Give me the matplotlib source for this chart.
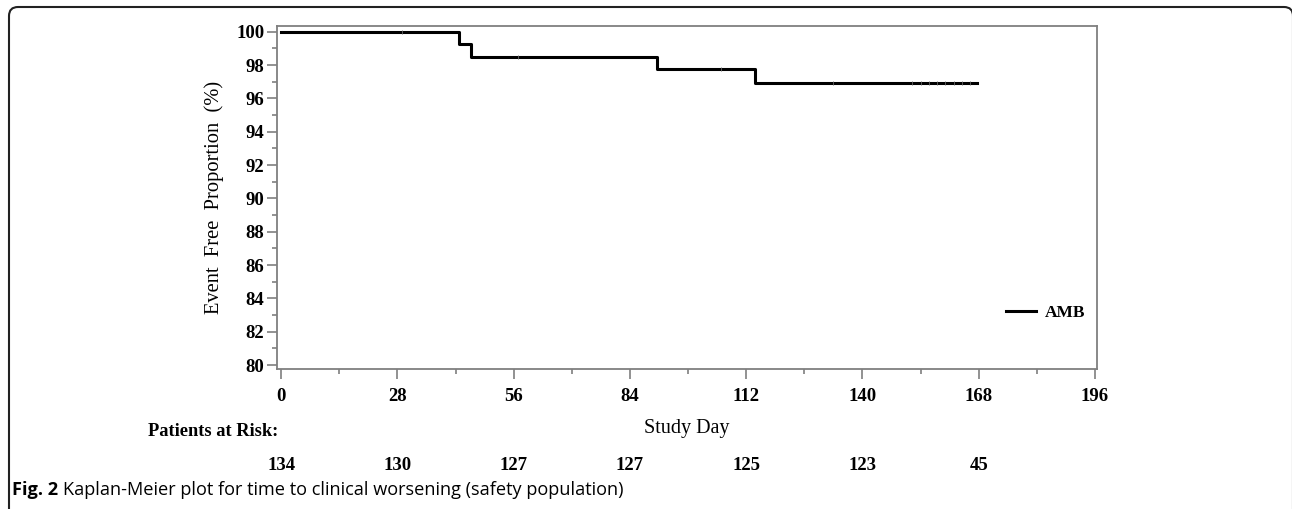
import matplotlib
matplotlib.use("Agg")
import matplotlib.pyplot as plt
from matplotlib.patches import FancyBboxPatch
from matplotlib.transforms import IdentityTransform, blended_transform_factory

# --- data ---
STEP_DAYS = [0, 42.8, 45.7, 90.5, 114.1, 167.6]          # days where survival changes (last = end of follow-up)
STEP_PCT = [100.0, 99.25, 98.51, 97.74, 96.93, 96.93]    # event-free proportion (%) from each day on
CENSOR_DAYS = [29, 57, 106, 133, 152, 154, 156, 158, 160, 162, 164, 166]
RISK_DAYS = [0, 28, 56, 84, 112, 140, 168]
RISK_N = [134, 130, 127, 127, 125, 123, 45]
X_TICKS = [0, 28, 56, 84, 112, 140, 168, 196]
Y_TICKS = list(range(80, 101, 2))

W, H = 1292, 509
SERIF = "Liberation Serif"
GRAY = "#7f7f7f"
FS = 13.5

fig = plt.figure(figsize=(W / 100, H / 100), dpi=100)
ax = fig.add_axes([277 / W, 1 - 369 / H, (1097 - 277) / W, (369 - 26) / H])

ax.step(STEP_DAYS, STEP_PCT, where="post", color="black", lw=2.2, label="AMB")
cens_pct = [STEP_PCT[max(i for i, d in enumerate(STEP_DAYS) if d <= c)] for c in CENSOR_DAYS]
ax.plot(CENSOR_DAYS, cens_pct, ls="none", marker="|", ms=3, mew=0.6, color="#666666")

ax.set_xlim(-1, 196.5)
ax.set_ylim(79.76, 100.34)
ax.set_xticks(X_TICKS)
ax.set_xticks([t + 14 for t in X_TICKS[:-1]], minor=True)
ax.set_yticks(Y_TICKS)
ax.set_yticks([t + 1 for t in Y_TICKS[:-1]], minor=True)
ax.tick_params(which="both", direction="out", color=GRAY, width=1.2)
ax.tick_params(which="major", length=7)
ax.tick_params(which="minor", length=3.5)
ax.tick_params(axis="x", pad=7)
ax.tick_params(axis="y", pad=2)
for lab in ax.get_xticklabels() + ax.get_yticklabels():
    lab.set_fontfamily(SERIF); lab.set_fontweight("bold"); lab.set_fontsize(FS)
for s in ax.spines.values():
    s.set_color(GRAY); s.set_linewidth(1.3)

ax.set_xlabel("Study Day", family=SERIF, fontsize=14.5, labelpad=10)
ax.set_ylabel("Event  Free  Proportion  (%)", family=SERIF, fontsize=14.8, labelpad=9)

ax.legend(loc="center right", bbox_to_anchor=(0.994, 0.163), borderaxespad=0, frameon=False,
          handlelength=1.7, handletextpad=0.5,
          prop={"family": SERIF, "weight": "bold", "size": 12.5})

# patients at risk table under the axis
fig.text(148 / W, 1 - 431 / H, "Patients at Risk:", family=SERIF, fontweight="bold",
         fontsize=13.2, va="center", ha="left")
tr = blended_transform_factory(ax.transData, fig.transFigure)
for d, n in zip(RISK_DAYS, RISK_N):
    ax.text(d, 1 - 466 / H, str(n), transform=tr, ha="center", va="center",
            family=SERIF, fontweight="bold", fontsize=FS, clip_on=False)

# caption
cap_y = 1 - 490 / H
t1 = fig.text(12 / W, cap_y, "Fig. 2", family="Open Sans", fontweight="bold", fontsize=13.1, va="center")
fig.canvas.draw()
bb = t1.get_window_extent()
fig.text((bb.x1 + 5) / W, cap_y, "Kaplan-Meier plot for time to clinical worsening (safety population)",
         family="Open Sans", fontsize=13.1, va="center")

# rounded frame around the figure (open at bottom / right)
frame = FancyBboxPatch((9, -40), 1284, H - 7 + 40, boxstyle="round,pad=0,rounding_size=9",
                       transform=IdentityTransform(), fill=False, ec="#222222", lw=1.5)
fig.add_artist(frame)

fig.savefig("out.png", dpi=100)
